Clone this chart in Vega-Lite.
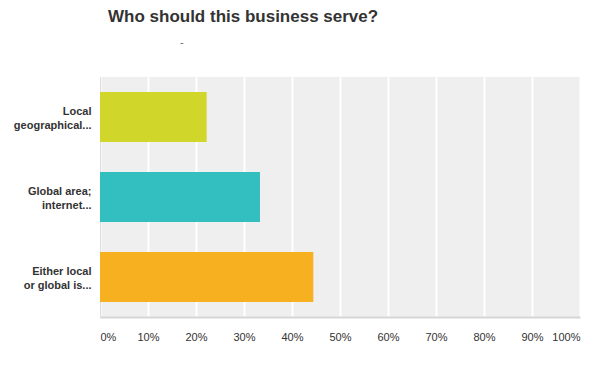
{
  "$schema": "https://vega.github.io/schema/vega-lite/v6.json",
  "autosize": {"type": "none"},
  "width": 480,
  "height": 240,
  "padding": {"left": 100, "top": 77, "right": 27, "bottom": 56},
  "background": "white",
  "title": {
    "text": "Who should this business serve?",
    "subtitle": "\u2800\u2800\u2800\u2800\u2800\u2800\u2800\u2800\u2800-",
    "anchor": "start",
    "frame": "group",
    "dx": 8,
    "offset": 28,
    "font": "Liberation Sans",
    "fontSize": 17,
    "fontWeight": "bold",
    "color": "#333333",
    "subtitleFont": "Liberation Sans",
    "subtitleFontSize": 11,
    "subtitleColor": "#666666",
    "subtitlePadding": 11
  },
  "data": {
    "values": [
      {"answer": "Local|geographical...", "pct": 0.2222, "order": 1},
      {"answer": "Global area;|internet...", "pct": 0.3333, "order": 2},
      {"answer": "Either local|or global is...", "pct": 0.4444, "order": 3}
    ]
  },
  "mark": {"type": "bar"},
  "encoding": {
    "y": {
      "field": "answer",
      "type": "nominal",
      "sort": {"field": "order"},
      "scale": {"paddingInner": 0.375, "paddingOuter": 0.1875},
      "axis": {
        "title": null,
        "labelExpr": "split(datum.label, '|')",
        "labelFont": "Liberation Sans",
        "labelFontSize": 11,
        "labelFontWeight": "bold",
        "labelColor": "#333333",
        "labelLineHeight": 14,
        "labelPadding": 9,
        "labelOffset": -5,
        "ticks": false,
        "domain": true,
        "domainColor": "#dddddd",
        "domainWidth": 1,
        "grid": false,
        "labelLimit": 200
      }
    },
    "x": {
      "field": "pct",
      "type": "quantitative",
      "scale": {"domain": [0, 1], "nice": false},
      "axis": {
        "title": null,
        "format": ".0%",
        "values": [0, 0.1, 0.2, 0.3, 0.4, 0.5, 0.6, 0.7, 0.8, 0.9, 1],
        "labelFont": "Liberation Sans",
        "labelFontSize": 11,
        "labelColor": "#333333",
        "labelPadding": 14,
        "labelFlush": true,
        "ticks": false,
        "domain": true,
        "domainColor": "#d6d6d6",
        "domainWidth": 2,
        "grid": true,
        "gridColor": "#ffffff",
        "gridWidth": 2,
        "gridOpacity": 1
      }
    },
    "color": {
      "field": "answer",
      "type": "nominal",
      "scale": {
        "domain": ["Local|geographical...", "Global area;|internet...", "Either local|or global is..."],
        "range": ["#d0d62a", "#33bec0", "#f7b01f"]
      },
      "legend": null
    }
  },
  "config": {
    "view": {"fill": "#efefef", "stroke": null}
  }
}
